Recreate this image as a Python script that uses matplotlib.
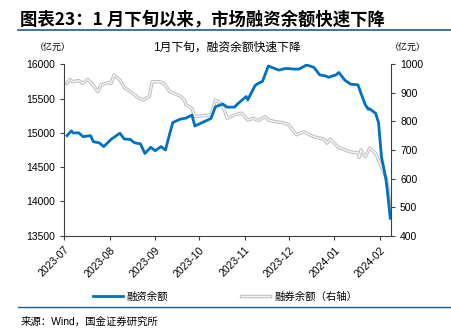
import numpy as np
import pandas as pd
import matplotlib
matplotlib.use("Agg")
import matplotlib.pyplot as plt
import matplotlib.dates as mdates
import matplotlib.patheffects as pe
from matplotlib.lines import Line2D

plt.rcParams['font.family'] = ['Liberation Sans', 'Noto Sans CJK SC', 'DejaVu Sans']
plt.rcParams['axes.unicode_minus'] = False

# 融资余额（亿元）
rz_dates = ['2023-07-03', '2023-07-06', '2023-07-07', '2023-07-11', '2023-07-14',
            '2023-07-19', '2023-07-21', '2023-07-25', '2023-07-28', '2023-08-02',
            '2023-08-08', '2023-08-11', '2023-08-15', '2023-08-18', '2023-08-22',
            '2023-08-25', '2023-08-29', '2023-09-01', '2023-09-05', '2023-09-08',
            '2023-09-11', '2023-09-13', '2023-09-18', '2023-09-22', '2023-09-26',
            '2023-09-28', '2023-10-09', '2023-10-12', '2023-10-17', '2023-10-20',
            '2023-10-25', '2023-10-27', '2023-11-02', '2023-11-03', '2023-11-08',
            '2023-11-10', '2023-11-13', '2023-11-15', '2023-11-17', '2023-11-24',
            '2023-11-29', '2023-12-04', '2023-12-08', '2023-12-13', '2023-12-18',
            '2023-12-22', '2023-12-26', '2023-12-28', '2024-01-02', '2024-01-04',
            '2024-01-08', '2024-01-12', '2024-01-17', '2024-01-19', '2024-01-22',
            '2024-01-24', '2024-01-25', '2024-01-29', '2024-01-31', '2024-02-01',
            '2024-02-02', '2024-02-05', '2024-02-06', '2024-02-07', '2024-02-08']
rz_vals = [14960, 15030, 15000, 15000, 14945,
           14960, 14870, 14855, 14800, 14905,
           14995, 14910, 14905, 14855, 14840,
           14700, 14790, 14740, 14800, 14750,
           14995, 15150, 15200, 15215, 15260,
           15100, 15210, 15380, 15420, 15375,
           15375, 15420, 15530, 15480, 15690,
           15720, 15750, 15860, 15975, 15915,
           15940, 15930, 15930, 15990, 15955,
           15845, 15830, 15810, 15845, 15880,
           15770, 15710, 15700, 15580, 15410,
           15345, 15350, 15285, 15150, 14895,
           14650, 14330, 14160, 13960, 13755]

# 融券余额（亿元，右轴）
rq_dates = ['2023-07-03', '2023-07-05', '2023-07-07', '2023-07-11', '2023-07-14',
            '2023-07-17', '2023-07-20', '2023-07-24', '2023-07-26', '2023-07-31',
            '2023-08-02', '2023-08-04', '2023-08-08', '2023-08-11', '2023-08-16',
            '2023-08-18', '2023-08-21', '2023-08-24', '2023-08-28', '2023-08-30',
            '2023-09-04', '2023-09-07', '2023-09-11', '2023-09-14', '2023-09-18',
            '2023-09-21', '2023-09-22', '2023-09-26', '2023-09-28', '2023-10-09',
            '2023-10-12', '2023-10-16', '2023-10-18', '2023-10-20', '2023-10-25',
            '2023-10-30', '2023-11-03', '2023-11-07', '2023-11-10', '2023-11-15',
            '2023-11-17', '2023-11-22', '2023-11-27', '2023-12-01', '2023-12-06',
            '2023-12-11', '2023-12-15', '2023-12-19', '2023-12-25', '2023-12-27',
            '2023-12-29', '2024-01-04', '2024-01-08', '2024-01-12', '2024-01-17',
            '2024-01-18', '2024-01-19', '2024-01-22', '2024-01-25', '2024-01-29',
            '2024-02-01', '2024-02-02', '2024-02-05', '2024-02-06', '2024-02-07',
            '2024-02-08']
rq_vals = [933, 947, 939, 943, 933,
           947, 933, 904, 928, 936,
           933, 963, 945, 919, 901,
           893, 881, 875, 887, 939,
           939, 933, 904, 898, 889,
           875, 858, 846, 817, 823,
           875, 863, 840, 811, 823,
           829, 805, 811, 803, 817,
           805, 799, 796, 788, 753,
           764, 753, 745, 738, 724,
           738, 708, 701, 693, 690,
           674, 700, 677, 706, 689,
           653, 640, 604, 585, 540,
           480]

rz_x = pd.to_datetime(rz_dates)
rq_x = pd.to_datetime(rq_dates)

BLUE = '#0070C0'
NAVY = '#1F5C8B'
AXC = '#404040'

fig = plt.figure(figsize=(4.51, 3.33), dpi=100)
ax = fig.add_axes([0.142, 0.292, 0.725, 0.515])
ax2 = ax.twinx()

# 融券余额画成双线（灰边浅芯）
ln2, = ax2.plot(rq_x, rq_vals, color='#F6F6F6', lw=1.0, label='融券余额（右轴）',
                path_effects=[pe.Stroke(linewidth=2.4, foreground='#BDBDBD'), pe.Normal()])
ln1, = ax.plot(rz_x, rz_vals, color=BLUE, lw=2.0, label='融资余额')
ax.set_zorder(ax2.get_zorder() + 1)
ax.patch.set_visible(False)

ax.set_ylim(13500, 16000)
ax.set_yticks(np.arange(13500, 16001, 500))
ax2.set_ylim(400, 1000)
ax2.set_yticks(np.arange(400, 1001, 100))
ax.set_xlim(pd.Timestamp('2023-07-01'), pd.Timestamp('2024-02-08 12:00'))
ax.xaxis.set_major_locator(mdates.MonthLocator())
ax.xaxis.set_major_formatter(mdates.DateFormatter('%Y-%m'))

for a in (ax, ax2):
    a.spines['top'].set_visible(False)
    for s in ('left', 'right', 'bottom'):
        a.spines[s].set_color(AXC)
        a.spines[s].set_linewidth(0.8)
    a.tick_params(colors=AXC, labelcolor='black', labelsize=7.5, length=3, width=0.8)
ax.spines['right'].set_visible(False)
ax2.spines['left'].set_visible(False)
ax2.spines['bottom'].set_visible(False)
for lab in ax.get_xticklabels():
    lab.set_rotation(45)
    lab.set_ha('right')
    lab.set_rotation_mode('anchor')

fig.text(0.045, 0.942, '图表23：1 月下旬以来，市场融资余额快速下降', fontsize=12.5,
         fontweight='bold', va='center', ha='left', family=['Noto Sans CJK SC', 'DejaVu Sans'])
fig.add_artist(Line2D([0.04, 1.0], [0.91, 0.91], color=NAVY, lw=1.2))
fig.text(0.503, 0.858, '1月下旬，融资余额快速下降', fontsize=8.5, ha='center', va='center')
fig.text(0.118, 0.858, '（亿元）', fontsize=6.5, ha='center', va='center')
fig.text(0.905, 0.858, '（亿元）', fontsize=6.5, ha='center', va='center')

fig.legend(handles=[ln1, ln2], loc='center', bbox_to_anchor=(0.5, 0.11), ncol=2,
           frameon=False, fontsize=7.5, handlelength=2.8, columnspacing=7.0, handletextpad=0.4)
fig.add_artist(Line2D([0.04, 1.0], [0.078, 0.078], color=NAVY, lw=1.0))
fig.text(0.045, 0.033, '来源：Wind，国金证券研究所', fontsize=7.5, ha='left', va='center')

fig.savefig('out.png', dpi=100)
